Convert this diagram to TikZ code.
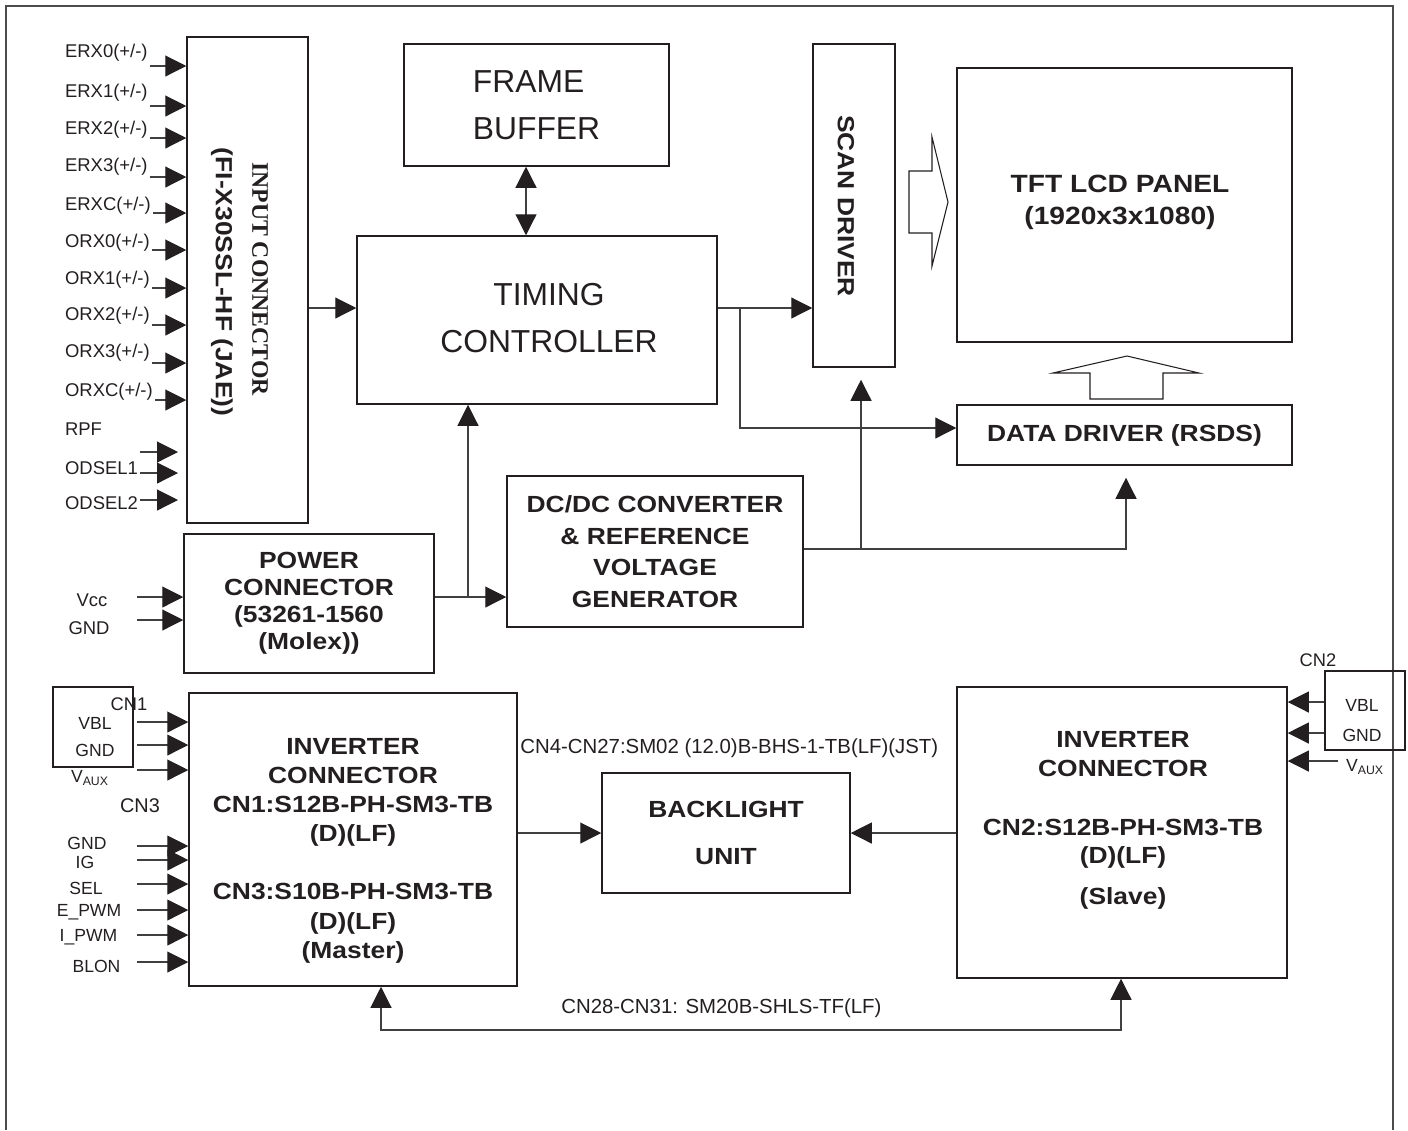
\documentclass[tikz,border=0pt]{standalone}
\usepackage{fontspec}
\setmainfont{Liberation Sans}
\newfontfamily\widesans{Liberation Sans}[FakeStretch=1.13]
\newfontfamily\serifface{Liberation Serif}
\usetikzlibrary{arrows.meta, positioning, calc}
\newcommand{\px}{0.02cm}
\definecolor{ink}{HTML}{231F20}
\definecolor{wirec}{HTML}{404040}
\tikzset{
  blk/.style={draw=ink, line width=0.85pt, rectangle, inner sep=0pt},
  bigtxt/.style={font=\fontsize{18.1pt}{27pt}\selectfont, text=ink, align=center},
  boldtxt/.style={font=\widesans\bfseries\fontsize{13.3pt}{16.4pt}\selectfont, text=ink, align=center},
  sigl/.style={font=\fontsize{10.5pt}{12pt}\selectfont, text=ink, inner sep=1pt},
  pinl/.style={font=\fontsize{10pt}{12pt}\selectfont, text=ink, inner sep=0pt},
  note/.style={font=\fontsize{11.6pt}{14pt}\selectfont, text=ink, inner sep=0pt},
  link/.style={draw=wirec, line width=0.65pt},
  sig/.style={link, -{Triangle[length=0.42cm, width=0.42cm, color=ink]}},
  sigboth/.style={link, {Triangle[length=0.42cm, width=0.42cm, color=ink]}-{Triangle[length=0.42cm, width=0.42cm, color=ink]}},
}
\begin{document}
\begin{tikzpicture}[x=\px, y=-\px]
\useasboundingbox (0,0) rectangle (1408,1130);
% outer frame
\draw[gray!60!black, line width=1pt] (6,1130) -- (6,6) -- (1393,6) -- (1393,1130);

% blocks
\node[blk, minimum width=121*\px, minimum height=486*\px] (inbox) at (247.5,280) {};
\node[rotate=-90, text=ink, font=\serifface\bfseries\fontsize{13.5pt}{16pt}\selectfont] (inname) at (260,279) {INPUT CONNECTOR};
\node[rotate=-90, boldtxt] (inpart) at (222,282) {(FI-X30SSL-HF (JAE))};
\node[blk, bigtxt, align=left, minimum width=265*\px, minimum height=122*\px] (fbuf) at (536.5,105) {FRAME\\BUFFER};
\node[blk, minimum width=360*\px, minimum height=168*\px] (tcon) at (537,320) {};
\node[bigtxt] (tcontxt) at (549,318) {TIMING\\CONTROLLER};
\node[blk, minimum width=82*\px, minimum height=323*\px] (scan) at (854,205.5) {};
\node[boldtxt, rotate=-90] (scantxt) at (846,206) {SCAN DRIVER};
\node[blk, minimum width=335*\px, minimum height=274*\px] (panel) at (1124.5,205) {};
\node[boldtxt, font=\widesans\bfseries\fontsize{14.2pt}{18.1pt}\selectfont] (paneltxt) at (1120,202) {TFT LCD PANEL\\(1920x3x1080)};
\node[blk, boldtxt, minimum width=335*\px, minimum height=60*\px] (ddrv) at (1124.5,435) {DATA DRIVER (RSDS)};
\node[blk, boldtxt, font=\widesans\bfseries\fontsize{13.3pt}{18pt}\selectfont, minimum width=296*\px, minimum height=151*\px] (dcdc) at (655,551.5) {DC/DC CONVERTER\\\& REFERENCE\\VOLTAGE\\GENERATOR};
\node[blk, boldtxt, font=\widesans\bfseries\fontsize{13.3pt}{15.4pt}\selectfont, minimum width=250*\px, minimum height=139*\px] (pwr) at (309,603.5) {POWER\\CONNECTOR\\(53261-1560\\(Molex))};
\node[blk, minimum width=328*\px, minimum height=293*\px] (invm) at (353,839.5) {};
\node[boldtxt, font=\widesans\bfseries\fontsize{13.3pt}{16.6pt}\selectfont] (invmtxt) at (353,850.5) {INVERTER\\CONNECTOR\\CN1:S12B-PH-SM3-TB\\(D)(LF)\\[16.6pt]CN3:S10B-PH-SM3-TB\\(D)(LF)\\(Master)};
\node[blk, boldtxt, font=\widesans\bfseries\fontsize{13.3pt}{26.6pt}\selectfont, minimum width=248*\px, minimum height=120*\px] (blu) at (726,833) {BACKLIGHT\\UNIT};
\node[blk, minimum width=330*\px, minimum height=291*\px] (invs) at (1122,832.5) {};
\node[boldtxt, font=\widesans\bfseries\fontsize{13.3pt}{16pt}\selectfont] (invstxt) at (1123,820.5) {INVERTER\\CONNECTOR\\[18pt]CN2:S12B-PH-SM3-TB\\(D)(LF)\\[7pt](Slave)};

% notes
\node[note, anchor=west] (blnote) at (520,748) {CN4-CN27:SM02 (12.0)B-BHS-1-TB(LF)(JST)};
\node[note, anchor=west] (fbnote) at (561,1008) {CN28-CN31: SM20B-SHLS-TF(LF)};

% block arrows
\draw[ink, line width=0.6pt] (909,171) -- (932,171) -- (932,137) -- (948,202) -- (932,266) -- (932,233) -- (909,233) -- cycle;
\draw[ink, line width=0.6pt] (1090,399) -- (1090,373) -- (1053,373) -- (1127,356) -- (1199,373) -- (1163,373) -- (1163,399) -- cycle;

% main links
\draw[sig] (inbox.east |- 0,308) -- (tcon.west |- 0,308);
\draw[sigboth] (fbuf.south -| 526,0) -- (tcon.north -| 526,0);
\draw[sig] (tcon.east |- 0,308) -- (scan.west |- 0,308);
\coordinate (tsplit) at (740,308);
\draw[sig] (tsplit) |- (ddrv.west |- 0,428);
\coordinate (psplit) at (468,597);
\draw[sig] (pwr.east |- psplit) -- (dcdc.west |- psplit);
\draw[sig] (psplit) -- (tcon.south -| psplit);
\coordinate (dsplit) at (861,549);
\draw[sig, shorten >=0.24cm] (dcdc.east |- dsplit) -| (ddrv.south -| 1126,0);
\draw[sig, shorten >=0.24cm] (dsplit) -- (scan.south -| dsplit);
\draw[sig] (invm.east |- blu.west) -- (blu.west);
\draw[sig] (invs.west |- blu.east) -- (blu.east);
\coordinate (fbl) at (381,1030);
\draw[sigboth] (invm.south -| fbl) -- (fbl) -| (invs.south -| 1121,0);

% input connector signals
\foreach \nm/\ly/\ay in {ERX0/53/66, ERX1/93/106, ERX2/130/138, ERX3/167/177, ERXC/206/213, ORX0/243/250, ORX1/280/288, ORX2/316/325, ORX3/353/363, ORXC/392/400}{
  \node[sigl, anchor=west] (l\nm) at (63,\ly) {\nm(+/-)};
  \draw[sig] (l\nm.east |- 0,\ay) -- (inbox.west |- 0,\ay);
}
\node[sigl, anchor=west] (lRPF) at (63,429) {RPF};
\node[sigl, anchor=west] (lODSEL1) at (63,468) {ODSEL1};
\node[sigl, anchor=west] (lODSEL2) at (63,503) {ODSEL2};
\foreach \ay in {452,473,500}{
  \coordinate (os\ay) at (140,\ay);
  \draw[sig] (os\ay) -- ++(38,0);
}

% power connector signals
\node[sigl] (lvcc) at (92,600) {Vcc};
\node[sigl] (lpgnd) at (89,628) {GND};
\coordinate (pv) at (137,597);
\coordinate (pg) at (137,620);
\draw[sig] (pv) -- (pwr.west |- pv);
\draw[sig] (pg) -- (pwr.west |- pg);

% CN1 / CN3
\node[draw=ink, line width=0.6pt, minimum width=80*\px, minimum height=80*\px] (cn1box) at (93,727) {};
\node[pinl, font=\fontsize{10.4pt}{12pt}\selectfont] (cn1) at (129,704) {CN1};
\node[pinl] (cn1vbl) at (95,723) {VBL};
\node[pinl] (cn1gnd) at (95,750) {GND};
\node[pinl] (cn1vaux) at (90,778) {V\textsubscript{AUX}};
\node[pinl, font=\fontsize{11.3pt}{12pt}\selectfont] (cn3) at (140,806) {CN3};
\foreach \ay [count=\k] in {722,745,770}{
  \coordinate (ca\k) at (137,\ay);
  \draw[sig] (ca\k) -- (invm.west |- ca\k);
}
\foreach \nm/\lx/\ly/\ay [count=\k] in {GND/87/843/846, IG/85/862/860, SEL/86/888/884, E\_PWM/89/912/910, I\_PWM/88.5/937/935, BLON/96.5/966/962}{
  \node[pinl] (cn3s\k) at (\lx,\ly) {\nm};
  \coordinate (cb\k) at (137,\ay);
  \draw[sig] (cb\k) -- (invm.west |- cb\k);
}

% CN2
\node[draw=ink, line width=0.6pt, minimum width=80*\px, minimum height=79*\px] (cn2box) at (1365,710.5) {};
\node[pinl, font=\fontsize{10.4pt}{12pt}\selectfont] (cn2) at (1318,660) {CN2};
\node[pinl] (cn2vbl) at (1362,705) {VBL};
\node[pinl] (cn2gnd) at (1362,735) {GND};
\node[pinl] (cn2vaux) at (1365,767) {V\textsubscript{AUX}};
\draw[sig] (cn2box.west |- 0,702) -- (invs.east |- 0,702);
\draw[sig] (cn2box.west |- 0,733) -- (invs.east |- 0,733);
\coordinate (cv) at (1338,761);
\draw[sig] (cv) -- (invs.east |- cv);
\end{tikzpicture}
\end{document}
